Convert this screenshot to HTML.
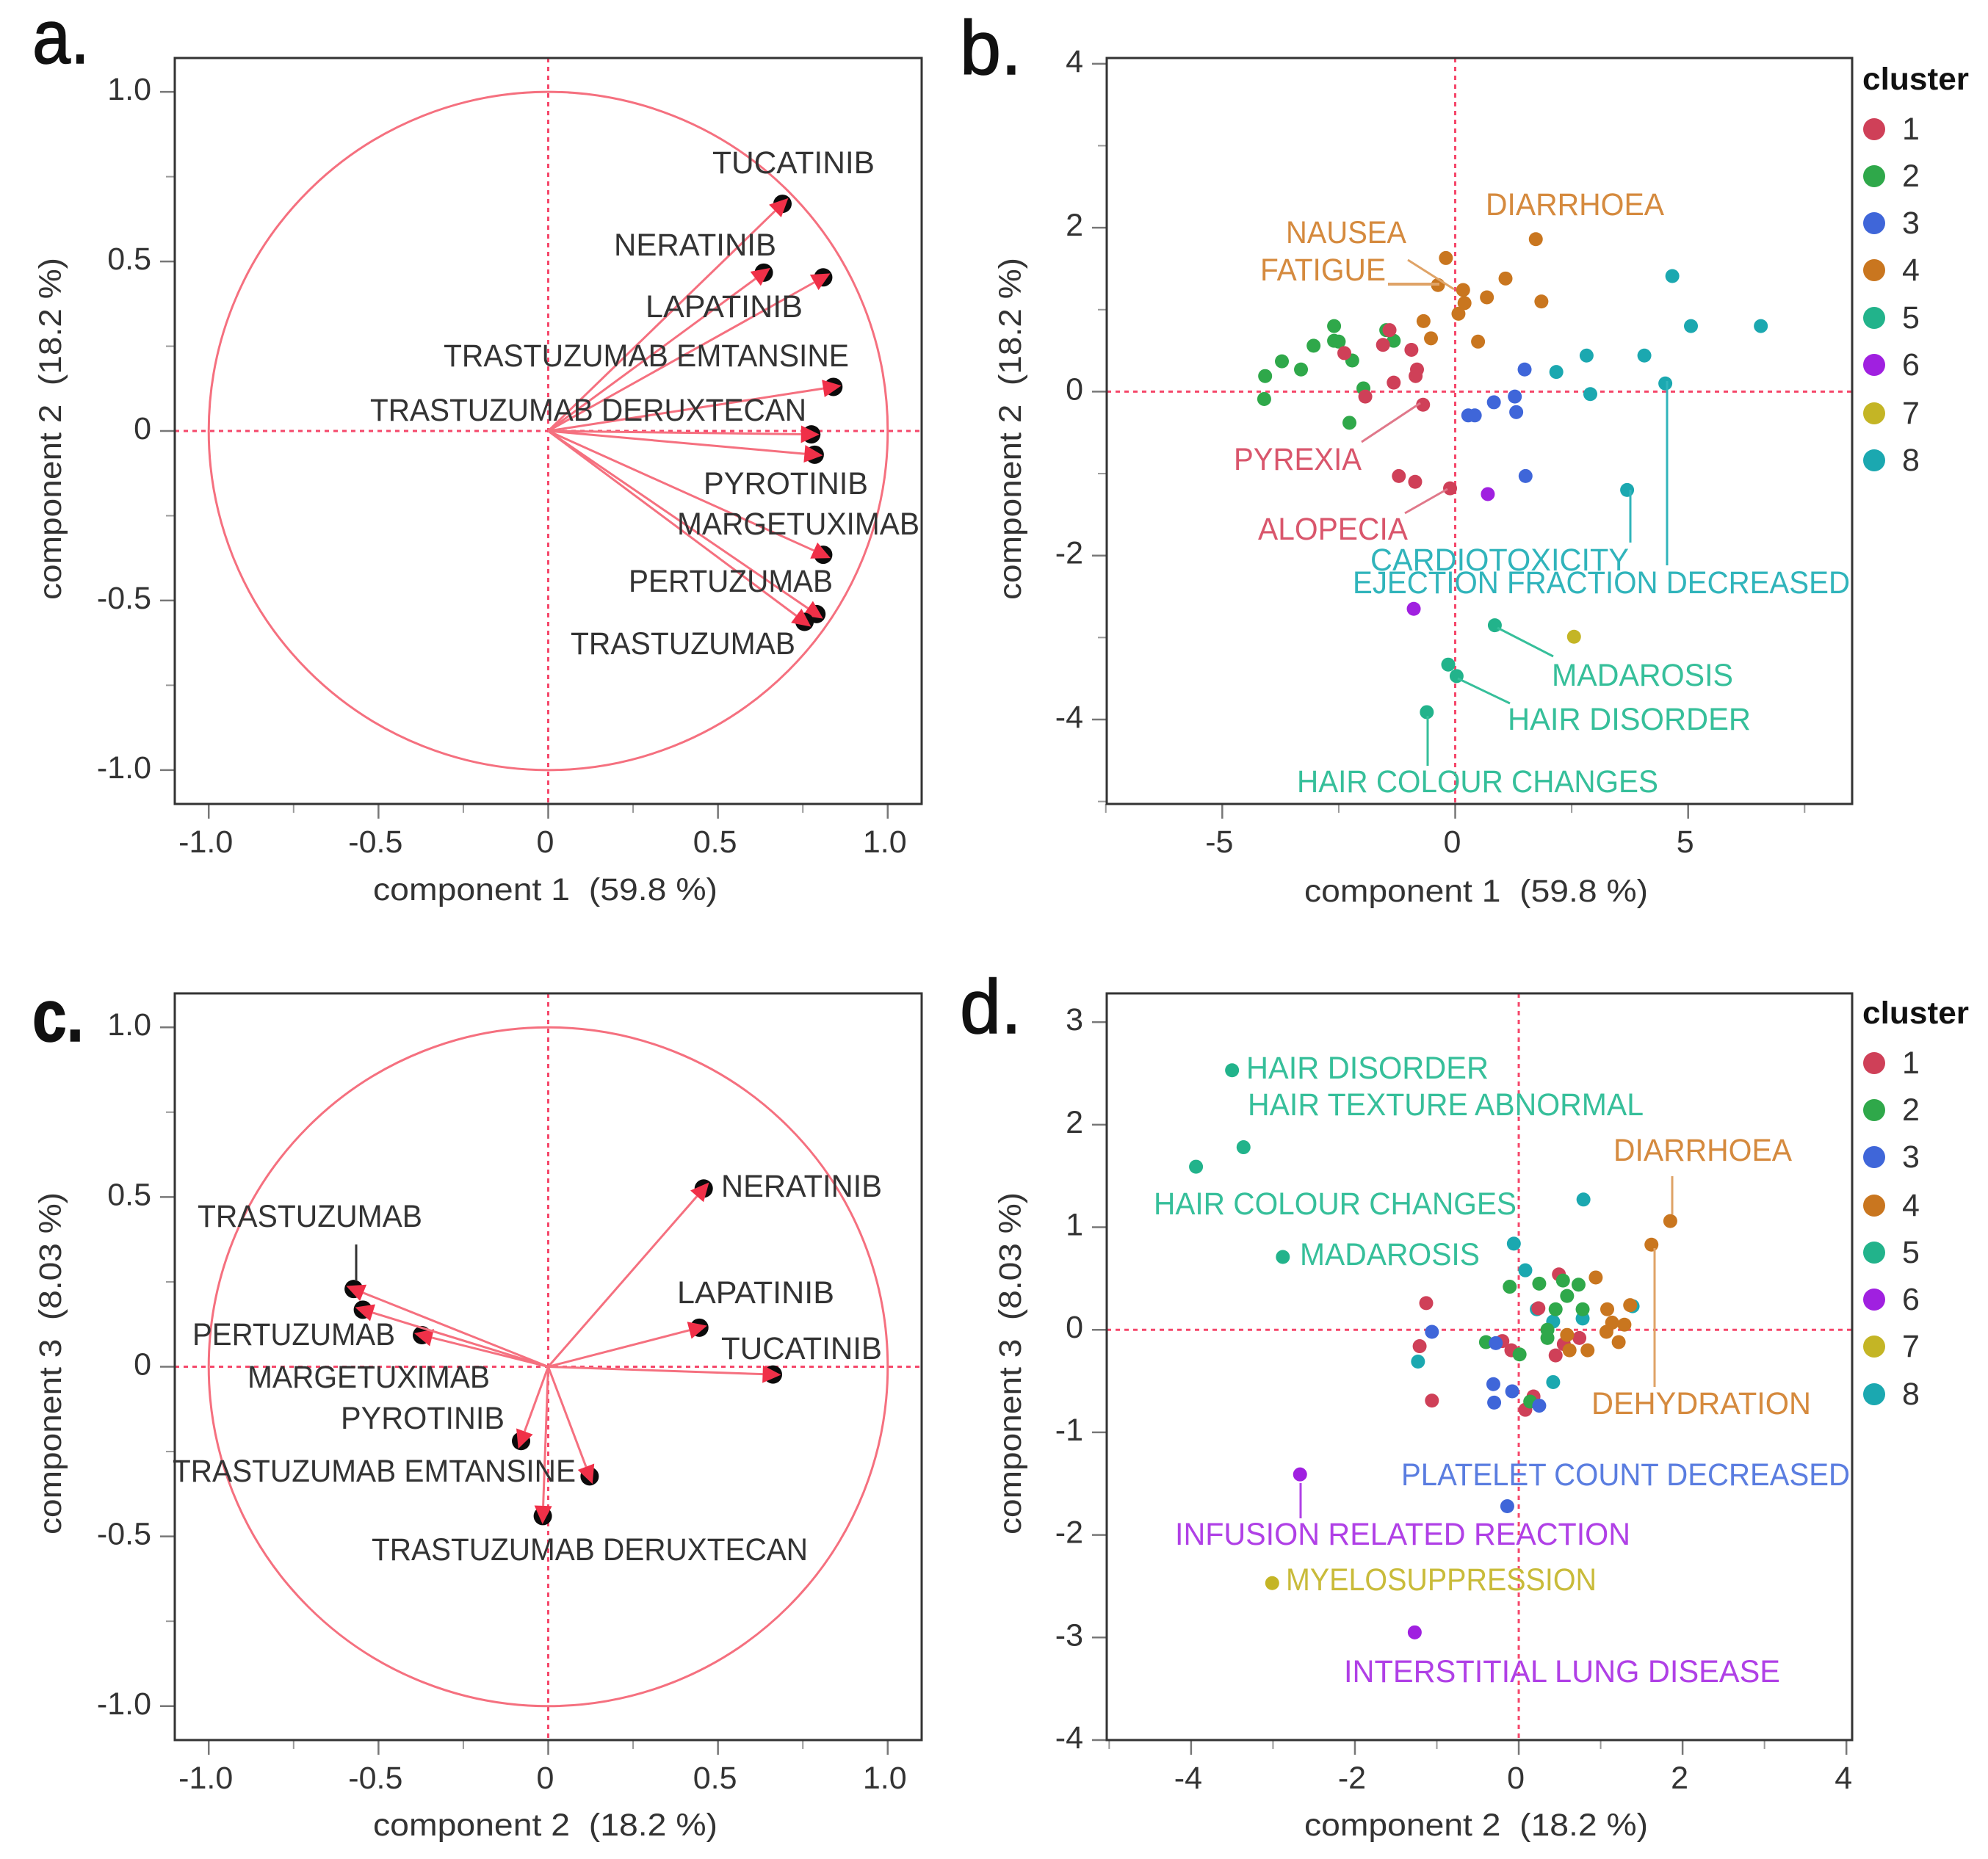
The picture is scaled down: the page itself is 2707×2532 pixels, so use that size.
<!DOCTYPE html>
<html lang="en">
<head>
<meta charset="utf-8">
<title>PCA biplots</title>
<style>
html,body{margin:0;padding:0;background:#fff;}
svg{display:block;}
text{font-family:"Liberation Sans",sans-serif;font-size:43px;fill:#333;}
.letter{font-size:104px;fill:#111;stroke:#111;stroke-width:1.5px;}
.c1{fill:#d9566c}.c2{fill:#3fb45c}.c3{fill:#5a7de0}.c4{fill:#d58a3e}.c5{fill:#36bf9a}.c6{fill:#b040e6}.c7{fill:#c9bb3a}.c8{fill:#30b4bb}
.l1{stroke:#e0788a}.l3{stroke:#5a7de0}.l4{stroke:#dfa367}.l5{stroke:#36bf9a}.l6{stroke:#b040e6}.l8{stroke:#30b4bb}
line.lead{stroke-width:3;}
</style>
</head>
<body>
<svg id="figure" xmlns="http://www.w3.org/2000/svg" width="2707" height="2532" viewBox="0 0 2707 2532">
<rect x="0" y="0" width="2707" height="2532" fill="#fff"/>
<g id="marks"></g>

<g>
<text class="letter" x="44" y="86" textLength="78" lengthAdjust="spacingAndGlyphs">a.</text>
<text class="letter" x="1307" y="101" textLength="84" lengthAdjust="spacingAndGlyphs">b.</text>
<text class="letter" x="44" y="1418" textLength="70" lengthAdjust="spacingAndGlyphs" font-weight="bold" style="font-size:100px">c.</text>
<text class="letter" x="1307" y="1407" textLength="84" lengthAdjust="spacingAndGlyphs">d.</text>
</g>

<g>
<text x="508" y="1226" textLength="469" lengthAdjust="spacingAndGlyphs" xml:space="preserve">component 1  (59.8 %)</text>
<text transform="translate(83,584) rotate(-90)" text-anchor="middle" textLength="466" lengthAdjust="spacingAndGlyphs" xml:space="preserve">component 2  (18.2 %)</text>
<text x="1776" y="1228" textLength="468" lengthAdjust="spacingAndGlyphs" xml:space="preserve">component 1  (59.8 %)</text>
<text transform="translate(1390,584) rotate(-90)" text-anchor="middle" textLength="466" lengthAdjust="spacingAndGlyphs" xml:space="preserve">component 2  (18.2 %)</text>
<text x="508" y="2500" textLength="469" lengthAdjust="spacingAndGlyphs" xml:space="preserve">component 2  (18.2 %)</text>
<text transform="translate(83,1857) rotate(-90)" text-anchor="middle" textLength="466" lengthAdjust="spacingAndGlyphs" xml:space="preserve">component 3  (8.03 %)</text>
<text x="1776" y="2500" textLength="468" lengthAdjust="spacingAndGlyphs" xml:space="preserve">component 2  (18.2 %)</text>
<text transform="translate(1390,1857) rotate(-90)" text-anchor="middle" textLength="466" lengthAdjust="spacingAndGlyphs" xml:space="preserve">component 3  (8.03 %)</text>
</g>

<g>
<text x="970" y="236" textLength="221" lengthAdjust="spacingAndGlyphs">TUCATINIB</text>
<text x="836" y="348" textLength="221" lengthAdjust="spacingAndGlyphs">NERATINIB</text>
<text x="879" y="432" textLength="214" lengthAdjust="spacingAndGlyphs">LAPATINIB</text>
<text x="604" y="499" textLength="552" lengthAdjust="spacingAndGlyphs">TRASTUZUMAB EMTANSINE</text>
<text x="504" y="573" textLength="594" lengthAdjust="spacingAndGlyphs">TRASTUZUMAB DERUXTECAN</text>
<text x="958" y="673" textLength="224" lengthAdjust="spacingAndGlyphs">PYROTINIB</text>
<text x="922" y="728" textLength="330" lengthAdjust="spacingAndGlyphs">MARGETUXIMAB</text>
<text x="856" y="806" textLength="278" lengthAdjust="spacingAndGlyphs">PERTUZUMAB</text>
<text x="777" y="891" textLength="306" lengthAdjust="spacingAndGlyphs">TRASTUZUMAB</text>
</g>

<g>
<text x="982" y="1630" textLength="219" lengthAdjust="spacingAndGlyphs">NERATINIB</text>
<text x="269" y="1671" textLength="306" lengthAdjust="spacingAndGlyphs">TRASTUZUMAB</text>
<line x1="485" y1="1695" x2="485" y2="1745" stroke="#333" stroke-width="3"/>
<text x="922" y="1775" textLength="214" lengthAdjust="spacingAndGlyphs">LAPATINIB</text>
<text x="262" y="1832" textLength="276" lengthAdjust="spacingAndGlyphs">PERTUZUMAB</text>
<text x="982" y="1851" textLength="219" lengthAdjust="spacingAndGlyphs">TUCATINIB</text>
<text x="337" y="1890" textLength="330" lengthAdjust="spacingAndGlyphs">MARGETUXIMAB</text>
<text x="464" y="1946" textLength="223" lengthAdjust="spacingAndGlyphs">PYROTINIB</text>
<text x="235" y="2018" textLength="549" lengthAdjust="spacingAndGlyphs">TRASTUZUMAB EMTANSINE</text>
<text x="506" y="2125" textLength="594" lengthAdjust="spacingAndGlyphs">TRASTUZUMAB DERUXTECAN</text>
</g>

<g>
<text class="c4" x="2023" y="293" textLength="243" lengthAdjust="spacingAndGlyphs">DIARRHOEA</text>
<text class="c4" x="1751" y="331" textLength="164" lengthAdjust="spacingAndGlyphs">NAUSEA</text>
<text class="c4" x="1716" y="382" textLength="171" lengthAdjust="spacingAndGlyphs">FATIGUE</text>
<text class="c1" x="1680" y="640" textLength="174" lengthAdjust="spacingAndGlyphs">PYREXIA</text>
<text class="c1" x="1713" y="735" textLength="204" lengthAdjust="spacingAndGlyphs">ALOPECIA</text>
<text class="c8" x="1866" y="777" textLength="352" lengthAdjust="spacingAndGlyphs">CARDIOTOXICITY</text>
<text class="c8" x="1842" y="808" textLength="677" lengthAdjust="spacingAndGlyphs">EJECTION FRACTION DECREASED</text>
<text class="c5" x="2113" y="934" textLength="247" lengthAdjust="spacingAndGlyphs">MADAROSIS</text>
<text class="c5" x="2053" y="994" textLength="331" lengthAdjust="spacingAndGlyphs">HAIR DISORDER</text>
<text class="c5" x="1766" y="1079" textLength="492" lengthAdjust="spacingAndGlyphs">HAIR COLOUR CHANGES</text>
<line class="lead l4" x1="1917" y1="354" x2="1980" y2="394"/>
<line class="lead l4" x1="1890" y1="387" x2="1960" y2="387" style="stroke-width:4"/>
<line class="lead l1" x1="1854" y1="602" x2="1934" y2="549"/>
<line class="lead l1" x1="1913" y1="699" x2="1971" y2="666"/>
<line class="lead l8" x1="2220" y1="667" x2="2220" y2="739"/>
<line class="lead l8" x1="2270" y1="519" x2="2270" y2="770"/>
<line class="lead l5" x1="2039" y1="855" x2="2115" y2="894"/>
<line class="lead l5" x1="1985" y1="924" x2="2056" y2="958"/>
<line class="lead l5" x1="1944" y1="975" x2="1944" y2="1043"/>
</g>

<g>
<text class="c5" x="1697" y="1469" textLength="330" lengthAdjust="spacingAndGlyphs">HAIR DISORDER</text>
<text class="c5" x="1699" y="1519" textLength="539" lengthAdjust="spacingAndGlyphs">HAIR TEXTURE ABNORMAL</text>
<text class="c4" x="2197" y="1581" textLength="243" lengthAdjust="spacingAndGlyphs">DIARRHOEA</text>
<text class="c5" x="1571" y="1654" textLength="494" lengthAdjust="spacingAndGlyphs">HAIR COLOUR CHANGES</text>
<text class="c5" x="1770" y="1723" textLength="245" lengthAdjust="spacingAndGlyphs">MADAROSIS</text>
<text class="c4" x="2167" y="1926" textLength="299" lengthAdjust="spacingAndGlyphs">DEHYDRATION</text>
<text class="c3" x="1908" y="2023" textLength="611" lengthAdjust="spacingAndGlyphs">PLATELET COUNT DECREASED</text>
<text class="c6" x="1600" y="2104" textLength="620" lengthAdjust="spacingAndGlyphs">INFUSION RELATED REACTION</text>
<text class="c7" x="1751" y="2166" textLength="423" lengthAdjust="spacingAndGlyphs">MYELOSUPPRESSION</text>
<text class="c6" x="1830" y="2291" textLength="594" lengthAdjust="spacingAndGlyphs">INTERSTITIAL LUNG DISEASE</text>
<line class="lead l4" x1="2277" y1="1602" x2="2277" y2="1654"/>
<line class="lead l4" x1="2253" y1="1700" x2="2253" y2="1889"/>
<line class="lead l6" x1="1771" y1="2020" x2="1771" y2="2068"/>
</g>
</svg>

<script>
// Loading values, panel a (component 1, component 2) and panel c (component 2, component 3)
const drugs = ['TUCATINIB','NERATINIB','LAPATINIB','TRASTUZUMAB EMTANSINE','TRASTUZUMAB DERUXTECAN','PYROTINIB','MARGETUXIMAB','PERTUZUMAB','TRASTUZUMAB'];
const aLoadX = [0.69,0.635,0.81,0.84,0.775,0.785,0.81,0.79,0.755];
const aLoadY = [0.67,0.467,0.453,0.13,-0.01,-0.07,-0.365,-0.54,-0.563];
const cLoadX = [0.662,0.458,0.445,0.122,-0.016,-0.08,-0.372,-0.546,-0.573];
const cLoadY = [-0.023,0.525,0.115,-0.323,-0.44,-0.219,0.093,0.168,0.229];

// Scores, panel b
const bCluster = [2,2,2,2,2,2,2,2,2,2,2,2,2, 1,1,1,1,1,1,1,1,1,1,1,1, 3,3,3,3,3,3,3, 4,4,4,4,4,4,4,4,4,4,4,4, 8,8,8,8,8,8,8,8,8, 6,6, 7, 5,5,5,5];
const bX = [-2.6,-2.6,-2.5,-3.04,-3.72,-3.31,-4.08,-4.1,-2.21,-1.97,-2.27,-1.48,-1.32, -1.41,-1.55,-2.38,-0.94,-0.82,-0.85,-1.32,-1.93,-0.69,-1.21,-0.86,-0.11, 1.49,1.28,0.83,1.31,0.28,0.42,1.51, 1.73,-0.2,1.08,-0.37,0.17,0.68,1.85,0.2,0.07,-0.68,-0.52,0.49, 4.66,5.06,6.56,2.82,4.06,2.17,4.51,2.9,3.69, 0.7,-0.89, 2.55, 0.85,-0.15,0.03,-0.61];
const bY = [0.8,0.62,0.61,0.56,0.37,0.27,0.19,-0.09,0.38,0.04,-0.38,0.75,0.62, 0.75,0.57,0.47,0.51,0.27,0.19,0.11,-0.06,-0.16,-1.03,-1.1,-1.18, 0.27,-0.06,-0.13,-0.25,-0.29,-0.29,-1.03, 1.86,1.63,1.38,1.3,1.24,1.15,1.1,1.08,0.95,0.86,0.65,0.61, 1.41,0.8,0.8,0.44,0.44,0.24,0.1,-0.03,-1.2, -1.25,-2.65, -2.99, -2.85,-3.33,-3.47,-3.91];

// Scores, panel d
const dCluster = [8,8,8,8,8,8,8,8,8, 1,1,1,1,1,1,1,1,1,1,1,1, 2,2,2,2,2,2,2,2,2,2,2,2, 3,3,3,3,3,3,3, 4,4,4,4,4,4,4,4,4,4,4,4, 5,5,5,5, 6,6, 7];
const dX = [-0.06,0.08,0.22,1.39,0.78,0.42,0.42,-1.23,0.79, -1.13,-1.21,-1.06,-0.2,-0.09,0.49,0.24,0.74,0.55,0.45,0.18,0.08, -0.4,0.01,-0.11,0.25,0.54,0.73,0.59,0.45,0.78,0.35,0.35,0.14, -1.06,-0.28,-0.31,-0.08,-0.3,0.25,-0.14, 1.85,1.62,0.94,1.08,1.36,1.14,1.29,1.07,1.22,0.59,0.62,0.84, -3.5,-3.36,-3.94,-2.88, -2.67,-1.27, -3.01];
const dY = [0.84,0.58,0.2,0.23,0.11,0.08,-0.51,-0.31,1.27, 0.26,-0.16,-0.69,-0.11,-0.2,0.54,0.21,-0.08,-0.14,-0.25,-0.65,-0.78, -0.12,-0.24,0.42,0.45,0.48,0.44,0.33,0.2,0.2,0,-0.08,-0.7, -0.02,-0.13,-0.53,-0.6,-0.71,-0.74,-1.72, 1.06,0.83,0.51,0.2,0.24,0.07,0.05,-0.02,-0.12,-0.05,-0.2,-0.2, 2.53,1.78,1.59,0.71, -1.41,-2.95, -2.47];

// Axis ticks
const loadTicks = [-1,-0.5,0,0.5,1];
const loadTickLabels = ['-1.0','-0.5','0','0.5','1.0'];
const loadMinor = [-0.75,-0.25,0.25,0.75];
const bXTicks = [-5,0,5];
const bXLabels = ['-5','0','5'];
const bXMinor = [-7.5,-2.5,2.5,7.5];
const bYTicks = [-4,-2,0,2,4];
const bYLabels = ['-4','-2','0','2','4'];
const bYMinor = [-5,-3,-1,1,3];
const dXTicks = [-4,-2,0,2,4];
const dXLabels = ['-4','-2','0','2','4'];
const dXMinor = [-5,-3,-1,1,3];
const dYTicks = [-4,-3,-2,-1,0,1,2,3];
const dYLabels = ['-4','-3','-2','-1','0','1','2','3'];
const dYMinor = [];
const clusterIds = [1,2,3,4,5,6,7,8];
const clusterColors = ['#cf4058','#2fa84a','#3f66d9','#c9761f','#22b38b','#a020e0','#c4b525','#1ba8b0'];

const NS = 'http://www.w3.org/2000/svg';
const root = document.getElementById('marks');
const scale = (d0, d1, r0, r1) => v => r0 + (v - d0) / (d1 - d0) * (r1 - r0);
function el(tag, attrs, parent) {
  const e = document.createElementNS(NS, tag);
  for (const k in attrs) e.setAttribute(k, attrs[k]);
  parent.appendChild(e);
  return e;
}

function drawAxes(id, f, sx, sy, xT, xL, xM, yT, yL, yM) {
  const g = el('g', {}, root);
  
  
  xT.forEach((v, i) => {
    const t = el('line', {x1:sx(v), x2:sx(v), y1:f.b, y2:f.b + 20, stroke:'#777', 'stroke-width':2.5}, g);
    
    
    const l = el('text', {x:sx(v) - 4, y:f.b + 66, 'text-anchor':'middle'}, g);
    
    
    l.textContent = xL[i];
  });
  xM.forEach(v => {
    const t = el('line', {x1:sx(v), x2:sx(v), y1:f.b, y2:f.b + 12, stroke:'#999', 'stroke-width':2}, g);
    
    
  });
  yT.forEach((v, i) => {
    const t = el('line', {x1:f.l - 20, x2:f.l, y1:sy(v), y2:sy(v), stroke:'#777', 'stroke-width':2.5}, g);
    
    
    const l = el('text', {x:f.l - 32, y:sy(v) + 11, 'text-anchor':'end'}, g);
    
    
    l.textContent = yL[i];
  });
  yM.forEach(v => {
    const t = el('line', {x1:f.l - 12, x2:f.l, y1:sy(v), y2:sy(v), stroke:'#999', 'stroke-width':2}, g);
    
    
  });
  const h = el('line', {x1:f.l, x2:f.r, y1:sy(0), y2:sy(0), stroke:'#f5476a', 'stroke-width':3, 'stroke-dasharray':'6 6'}, g);
  
  
  const w = el('line', {x1:sx(0), x2:sx(0), y1:f.t, y2:f.b, stroke:'#f5476a', 'stroke-width':3, 'stroke-dasharray':'6 6'}, g);
  
  
  const fr = el('rect', {x:f.l, y:f.t, width:f.r - f.l, height:f.b - f.t, fill:'none', stroke:'#333', 'stroke-width':3}, g);
  
  
}

function drawLoadings(id, f, xs, ys) {
  const sx = scale(-1.1, 1.1, f.l, f.r);
  const sy = scale(-1.1, 1.1, f.b, f.t);
  drawAxes(id, f, sx, sy, loadTicks, loadTickLabels, loadMinor, loadTicks, loadTickLabels, loadMinor);
  const c = el('ellipse', {cx:sx(0), cy:sy(0), rx:sx(1) - sx(0), ry:sy(0) - sy(1), fill:'none', stroke:'#f5707f', 'stroke-width':3}, root);
  
  
  drugs.forEach((name, i) => {
    const px = sx(xs[i]), py = sy(ys[i]), ox = sx(0), oy = sy(0);
    const dot = el('circle', {cx:px, cy:py, r:12.5, fill:'#0b0b0b'}, root);
    
    
    const len = Math.hypot(px - ox, py - oy), ux = (px - ox) / len, uy = (py - oy) / len;
    const tipX = px + ux * 11, tipY = py + uy * 11;
    const bx = tipX - ux * 25, by = tipY - uy * 25;
    const ln = el('line', {x1:ox, y1:oy, x2:bx, y2:by, stroke:'#f5707f', 'stroke-width':3}, root);
    
    
    const head = el('polygon', {points:[tipX + ',' + tipY, (bx - uy * 12) + ',' + (by + ux * 12), (bx + uy * 12) + ',' + (by - ux * 12)].join(' '), fill:'#f03048'}, root);
    
    
  });
}

function drawScores(id, f, xDom, yDom, xs, ys, cs, xT, xL, xM, yT, yL, yM) {
  const sx = scale(xDom[0], xDom[1], f.l, f.r);
  const sy = scale(yDom[0], yDom[1], f.b, f.t);
  drawAxes(id, f, sx, sy, xT, xL, xM, yT, yL, yM);
  xs.forEach((x, i) => {
    const p = el('circle', {cx:sx(x), cy:sy(ys[i]), r:9.5, fill:clusterColors[cs[i] - 1]}, root);
    
    
  });
}

function drawLegend(id, titleY, ys) {
  const t = el('text', {x:2536, y:titleY, 'font-weight':'bold', textLength:145, lengthAdjust:'spacingAndGlyphs', style:'fill:#111'}, root);
  
  
  t.textContent = 'cluster';
  clusterIds.forEach((c, i) => {
    const m = el('circle', {cx:2552, cy:ys[i], r:15, fill:clusterColors[i]}, root);
    
    
    const l = el('text', {x:2590, y:ys[i] + 14}, root);
    
    
    l.textContent = c;
  });
}

drawLoadings('a', {l:238, r:1255, t:79, b:1095}, aLoadX, aLoadY);
drawLoadings('c', {l:238, r:1255, t:1353, b:2370}, cLoadX, cLoadY);
drawScores('b', {l:1507, r:2522, t:79, b:1095}, [-7.48,8.52], [-5.03,4.07], bX, bY, bCluster, bXTicks, bXLabels, bXMinor, bYTicks, bYLabels, bYMinor);
drawScores('d', {l:1507, r:2522, t:1353, b:2370}, [-5.03,4.07], [-4,3.28], dX, dY, dCluster, dXTicks, dXLabels, dXMinor, dYTicks, dYLabels, dYMinor);
drawLegend('b', 122, [176,240,304,368,433,497,563,627]);
drawLegend('d', 1394, [1448,1512,1576,1642,1706,1770,1834,1899]);
</script>
</body>
</html>
